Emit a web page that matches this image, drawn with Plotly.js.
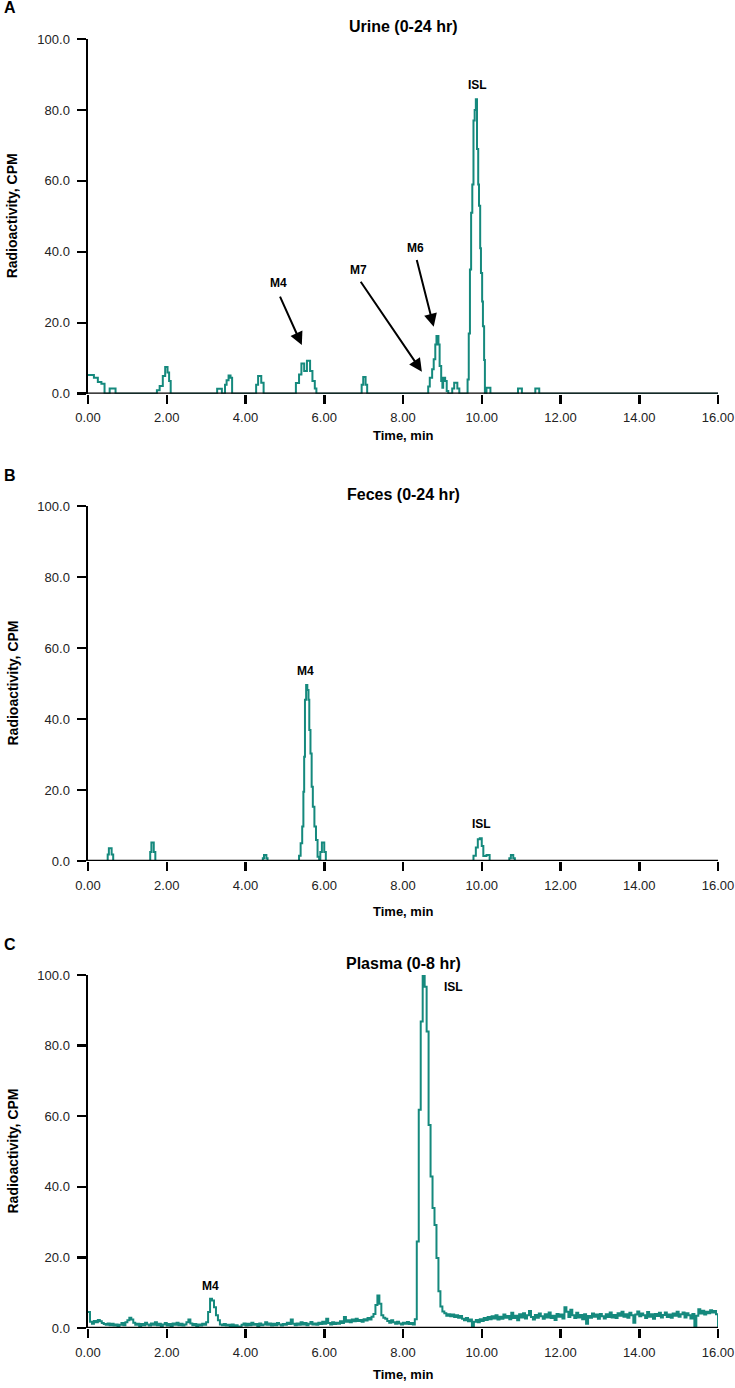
<!DOCTYPE html>
<html><head><meta charset="utf-8">
<script src="https://cdn.plot.ly/plotly-3.0.1.min.js"></script>
<style>html,body{margin:0;padding:0;background:#fff}#chart{width:735px;height:1388px}</style>
</head><body><div id="chart"></div>
<script>
// ---------- DATA ----------
// Panel A: Urine (0-24 hr) - step breakpoints (time, CPM)
const urineTime = [0, 0.15, 0.25, 0.34, 0.42, 0.55, 0.70,
  1.75, 1.82, 1.90, 1.96, 2.02, 2.06, 2.10,
  3.28, 3.40, 3.48, 3.52, 3.57, 3.62, 3.66,
  4.27, 4.32, 4.40, 4.46,
  5.28, 5.36, 5.42, 5.49, 5.56, 5.64, 5.70, 5.76, 5.80,
  6.95, 6.99, 7.05, 7.09,
  8.64, 8.68, 8.74, 8.78, 8.82, 8.85, 8.90, 8.93, 8.97, 9.00, 9.02, 9.07, 9.11, 9.15,
  9.25, 9.30, 9.38, 9.43,
  9.64, 9.67, 9.70, 9.73, 9.76, 9.79, 9.82, 9.85, 9.88, 9.91, 9.93, 9.96, 9.98, 10.01, 10.03, 10.06, 10.08,
  10.12, 10.22, 10.92, 11.02, 11.36, 11.46, 16.0];
const urineCPM = [5.3, 4.5, 3.3, 2.8, 0, 1.5, 0,
  1.0, 2.2, 5.0, 7.5, 6.0, 3.6, 0,
  1.4, 0, 2.5, 3.8, 5.1, 4.5, 0,
  2.5, 5.0, 3.1, 0,
  3.0, 5.4, 8.5, 6.4, 9.3, 6.4, 3.6, 1.5, 0,
  2.5, 4.7, 2.5, 0,
  2.0, 4.5, 6.9, 9.7, 13.9, 16.3, 13.9, 7.8, 3.6, 1.7, 4.5, 3.6, 0.75, 0,
  1.5, 3.1, 1.5, 0,
  4, 17, 35, 51, 59, 77, 80, 83, 69, 59, 53, 41, 34, 26, 19, 9.5, 0,
  1.7, 0, 1.5, 0, 1.5, 0, 0];

// Panel B: Feces (0-24 hr) - step breakpoints (time, CPM)
const fecesTime = [0, 0.50, 0.53, 0.60, 0.64,
  1.58, 1.61, 1.67, 1.71,
  4.44, 4.47, 4.53, 4.56,
  5.36, 5.40, 5.44, 5.47, 5.49, 5.51, 5.54, 5.57, 5.60, 5.62, 5.65, 5.68, 5.71, 5.75, 5.79, 5.83, 5.87,
  5.90, 5.94, 6.00, 6.04,
  9.79, 9.85, 9.90, 9.95, 10.00, 10.04, 10.12, 10.20,
  10.70, 10.74, 10.80, 10.84, 16.0];
const fecesCPM = [0, 1.8, 3.6, 1.8, 0,
  2.5, 5.2, 2.5, 0,
  0.8, 1.7, 0.8, 0,
  1.5, 5.0, 9.7, 19.5, 29.4, 45.4, 49.6, 48.2, 45.4, 36.9, 30.3, 20.9, 15.3, 9.7, 5.9, 1.2, 0,
  2.5, 5.2, 2.5, 0,
  1.5, 3.8, 6.1, 6.4, 4.2, 1.4, 1.7, 0,
  0.8, 1.7, 0.8, 0, 0];

// Panel C: Plasma (0-8 hr) - CPM sampled every 0.05 min from 0.00 to 16.00
const plasmaStart = 0;
const plasmaStep = 0.05;
const plasmaCPM = [
  4.5, 1.8, 1.2, 2.0, 1.6, 2.3, 1.9, 1.4, 1.1, 0.9, 1.3, 0.8, 1.2, 0.7, 1.0, 0.6, 0.9, 1.4, 0.8, 1.6,
  2.2, 2.9, 2.4, 1.5, 0.9, 1.2, 0.6, 1.1, 0.8, 1.5, 1.0, 0.7, 1.3, 0.9, 1.6, 0.8, 1.2, 0.5, 1.0, 1.4,
  0.7, 1.1, 0.6, 1.3, 0.9, 1.5, 0.8, 1.2, 0.7, 1.0, 1.6, 2.4, 1.3, 0.8, 1.1, 0.6, 1.0, 0.7, 1.2, 0.9,
  1.6, 4.5, 8.3, 7.8, 5.9, 3.6, 2.2, 1.0, 0.8, 1.1, 0.7, 0.9, 0.6, 1.0, 0.5, 0.8, 0.4, 0.0, 0.9, 1.3,
  0.7, 1.2, 0.8, 1.5, 0.9, 1.1, 0.6, 1.3, 0.8, 1.0, 1.6, 0.9, 1.3, 0.7, 1.2, 0.8, 1.4, 1.0, 0.7, 1.1,
  0.9, 1.5, 1.1, 2.4, 1.2, 0.8, 1.3, 0.9, 1.6, 1.0, 1.4, 0.8, 1.2, 1.7, 1.0, 1.3, 0.9, 1.5, 1.1, 1.8,
  1.2, 2.6, 1.4, 1.0, 1.6, 1.1, 1.5, 1.2, 1.9, 1.4, 3.1, 1.8, 2.2, 1.6, 2.4, 1.9, 2.6, 2.0, 2.3, 1.8,
  2.5, 2.1, 2.8, 2.4, 3.2, 4.0, 6.5, 9.2, 6.9, 3.6, 2.9, 2.6, 2.0, 1.5, 2.2, 1.6, 1.2, 1.8, 1.3, 1.0,
  1.5, 1.2, 1.7, 1.1, 1.4, 1.0, 2.5, 24.5, 61.8, 86.8, 100.0, 96.7, 84.0, 57.5, 42.9, 34.0, 29.2, 19.8, 10.4, 6.1,
  4.7, 4.2, 3.5, 3.9, 3.3, 3.8, 3.1, 3.6, 2.9, 3.4, 2.6, 2.2, 2.8, 1.9, 2.4, 0.5, 1.8, 2.3, 1.6, 2.5,
  2.0, 2.8, 2.3, 3.1, 2.5, 3.3, 2.7, 3.6, 2.4, 3.2, 2.6, 3.8, 2.9, 3.4, 2.5, 4.3, 2.8, 3.5, 2.2, 3.9,
  3.0, 4.2, 2.7, 3.6, 4.8, 3.1, 2.4, 3.7, 2.9, 4.1, 3.3, 2.6, 3.9, 3.0, 4.4, 2.8, 3.5, 2.3, 4.0, 3.2,
  3.8, 2.7, 5.9, 4.6, 3.1, 5.2, 3.6, 2.8, 4.3, 3.0, 3.7, 2.5, 3.9, 1.2, 3.4, 2.9, 4.1, 3.2, 3.8, 2.6,
  4.0, 3.3, 2.7, 3.9, 3.1, 4.4, 3.0, 3.7, 2.8, 4.2, 3.5, 4.6, 3.2, 3.9, 2.9, 4.3, 3.6, 1.5, 3.8, 4.7,
  3.3, 4.1, 3.6, 2.8, 4.5, 3.2, 3.9, 2.6, 4.0, 3.4, 4.3, 3.0, 3.7, 4.4, 3.1, 3.8, 2.9, 4.1, 3.5, 4.6,
  3.2, 3.9, 4.4, 3.0, 4.2, 3.6, 2.7, 4.0, 0.6, 3.5, 5.3, 4.1, 4.9, 3.8, 4.6, 4.2, 5.0, 4.4, 4.8, 3.9,
  0.0];

// Axis tick settings & labels
const xRange = [0, 16];
const xStep = 2;
const yRange = [0, 100];
const yStep = 20;
const panelTitles = ["Urine (0-24 hr)", "Feces (0-24 hr)", "Plasma (0-8 hr)"];
const panelLetters = ["A", "B", "C"];
const xTitle = "Time, min";
const yTitle = "Radioactivity, CPM";

// Peak labels: [panel index, label, x, y]
const peakLabels = [
  [0, "M4", 4.83, 31.2], [0, "M7", 6.87, 34.8], [0, "M6", 8.31, 41.0], [0, "ISL", 9.88, 87.0],
  [1, "M4", 5.53, 53.6], [1, "ISL", 10.0, 10.3],
  [2, "M4", 3.12, 11.9], [2, "ISL", 9.27, 96.5]
];
// Arrows: [panel, tailX, tailY, headX, headY]
const peakArrows = [
  [0, 4.86, 27.8, 5.43, 13.7],
  [0, 6.90, 32.0, 8.48, 6.2],
  [0, 8.34, 38.1, 8.78, 18.9]
];

// ---------- LAYOUT ----------
const W = 735, H = 1388;
const color = "#15897d";
const FONT = "Liberation Sans, Arial, Helvetica, sans-serif";
const plotLeft = 88, plotRight = 718;
const tops = [39, 506, 975];
const bottoms = [393.7, 861, 1328];
const xTitleOffset = [42, 50, 46];
const py = v => 1 - v / H;
const px = v => v / W;

const traces = [
  {x: urineTime, y: urineCPM, xaxis: "x", yaxis: "y"},
  {x: fecesTime, y: fecesCPM, xaxis: "x2", yaxis: "y2"},
  {x0: plasmaStart, dx: plasmaStep, y: plasmaCPM, xaxis: "x3", yaxis: "y3"}
].map(t => Object.assign(t, {type: "scatter", mode: "lines", line: {color: color, width: 2, shape: "hv"}, hoverinfo: "skip"}));

const layout = {
  width: W, height: H,
  margin: {l: 0, r: 0, t: 0, b: 0},
  paper_bgcolor: "#fff", plot_bgcolor: "rgba(0,0,0,0)",
  showlegend: false,
  font: {family: FONT, color: "#000"},
  annotations: [], shapes: []
};

for (let i = 0; i < 3; i++) {
  const sfx = i === 0 ? "" : String(i + 1);
  layout["xaxis" + sfx] = {
    domain: [px(plotLeft), px(plotRight)], anchor: "y" + sfx,
    range: xRange, tick0: 0, dtick: xStep, tickformat: ".2f",
    showline: false, layer: "above traces",
    ticks: "outside", ticklen: 9, tickwidth: 2.5, tickcolor: "#000",
    showgrid: false, zeroline: false, ticklabelstandoff: 3,
    tickfont: {family: FONT, size: 13, color: "#222"}, fixedrange: true
  };
  layout["yaxis" + sfx] = {
    domain: [py(bottoms[i]), py(tops[i])], anchor: "x" + sfx,
    range: yRange, tick0: 0, dtick: yStep, tickformat: ".1f",
    showline: true, linewidth: 2.5, linecolor: "#000", layer: "above traces",
    ticks: "outside", ticklen: 9, tickwidth: 2.5, tickcolor: "#000",
    showgrid: false, zeroline: false, ticklabelstandoff: 4,
    tickfont: {family: FONT, size: 13, color: "#222"}, fixedrange: true
  };
  // black x-axis baseline drawn over the trace at y = 0 (as in the reference)
  layout.shapes.push({
    type: "line", xref: "x" + sfx + " domain", yref: "y" + sfx,
    x0: -0.002, x1: 1, y0: 0, y1: 0, layer: "above",
    line: {color: "#000", width: 2.5}
  });
  const cx = px((plotLeft + plotRight) / 2);
  layout.annotations.push({
    xref: "paper", yref: "paper", x: cx, y: py(tops[i] - 12),
    text: "<b>" + panelTitles[i] + "</b>", showarrow: false,
    xanchor: "center", yanchor: "middle", font: {size: 16, family: FONT}
  });
  layout.annotations.push({
    xref: "paper", yref: "paper", x: px(2), y: py(tops[i] - 31),
    text: "<b>" + panelLetters[i] + "</b>", showarrow: false,
    xanchor: "left", yanchor: "middle", font: {size: 16, family: FONT}
  });
  layout.annotations.push({
    xref: "paper", yref: "paper", x: cx, y: py(bottoms[i] + xTitleOffset[i]),
    text: "<b>" + xTitle + "</b>", showarrow: false,
    xanchor: "center", yanchor: "middle", font: {size: 13, family: FONT}
  });
  layout.annotations.push({
    xref: "paper", yref: "paper", x: px(12), y: py((tops[i] + bottoms[i]) / 2),
    text: "<b>" + yTitle + "</b>", showarrow: false, textangle: -90,
    xanchor: "center", yanchor: "middle", font: {size: 14, family: FONT}
  });
}

peakLabels.forEach(([p, txt, x, y]) => {
  const sfx = p === 0 ? "" : String(p + 1);
  layout.annotations.push({
    xref: "x" + sfx, yref: "y" + sfx, x: x, y: y, text: "<b>" + txt + "</b>",
    showarrow: false, xanchor: "center", yanchor: "middle", font: {size: 12, family: FONT}
  });
});
peakArrows.forEach(([p, tx, ty, hx, hy]) => {
  const sfx = p === 0 ? "" : String(p + 1);
  layout.annotations.push({
    xref: "x" + sfx, yref: "y" + sfx, axref: "x" + sfx, ayref: "y" + sfx,
    x: hx, y: hy, ax: tx, ay: ty, text: "", showarrow: true,
    arrowhead: 2, arrowsize: 1.3, arrowwidth: 2, arrowcolor: "#000", standoff: 0, startstandoff: 0
  });
});

Plotly.newPlot("chart", traces, layout, {staticPlot: true, displayModeBar: false});
</script>
</body></html>
